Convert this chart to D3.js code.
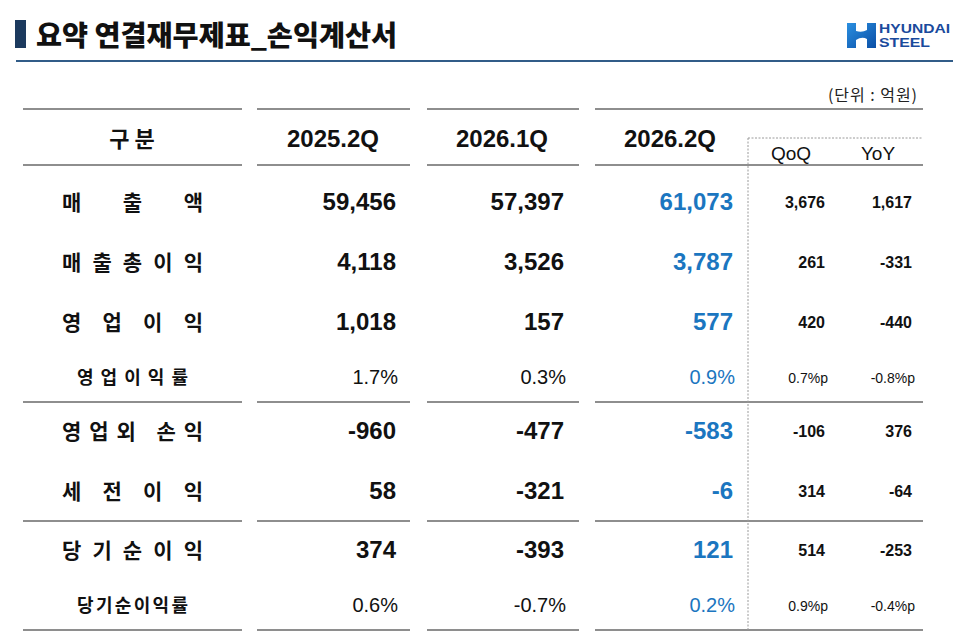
<!DOCTYPE html>
<html>
<head>
<meta charset="utf-8">
<script src="https://cdn.jsdelivr.net/npm/d3@7"></script>
<style>
  html, body { margin: 0; padding: 0; background: #fff; }
  svg { display: block; }
  .num { font-family: "Liberation Sans", Arial, sans-serif; }
  .kr { font-family: "Noto Sans CJK KR", "Noto Sans", sans-serif; }
</style>
</head>
<body>
<svg id="table" width="960" height="641"></svg>
<script>
// values (억원)
const rowLabels = ["매출액", "매출총이익", "영업이익", "영업이익률", "영업외 손익", "세전이익", "당기순이익", "당기순이익률"];
const isRatio = [false, false, false, true, false, false, false, true];
const sectionOf = [0, 0, 0, 0, 1, 1, 2, 2];
const periods = ["2025.2Q", "2026.1Q", "2026.2Q"];
const v2025q2 = [59456, 4118, 1018, 1.7, -960, 58, 374, 0.6];
const v2026q1 = [57397, 3526, 157, 0.3, -477, -321, -393, -0.7];
const v2026q2 = [61073, 3787, 577, 0.9, -583, -6, 121, 0.2];
const qoq = [3676, 261, 420, 0.7, -106, 314, 514, 0.9];
const yoy = [1617, -331, -440, -0.8, 376, -64, -253, -0.4];
const changeHeads = ["QoQ", "YoY"];

const svg = d3.select("#table");
const blue = "#1b76c0";
const lineCol = "#8e8e8e";

// title
svg.append("rect").attr("x", 15).attr("y", 20).attr("width", 11).attr("height", 28).attr("fill", "#1c3a5e");
svg.append("text").attr("class", "kr")
  .attr("x", 36).attr("y", 46)
  .attr("font-size", 28).attr("font-weight", 900).attr("fill", "#111")
  .attr("textLength", 361).attr("lengthAdjust", "spacingAndGlyphs")
  .text("요약 연결재무제표_손익계산서");
svg.append("line").attr("x1", 16).attr("x2", 953).attr("y1", 61).attr("y2", 61)
  .attr("stroke", "#315c88").attr("stroke-width", 2);

// logo
const defs = svg.append("defs");
const grad = defs.append("linearGradient").attr("id", "hg").attr("x1", 0).attr("x2", 1).attr("y1", 0).attr("y2", 1);
grad.append("stop").attr("offset", 0).attr("stop-color", "#2a8fe0");
grad.append("stop").attr("offset", 1).attr("stop-color", "#0b4fa6");
svg.append("path")
  .attr("d", "M847,23 L856,23 L856,31 Q862,33 867,30 L867,23 L876,23 L876,48 L867,48 L867,39 Q862,36 856,40 L856,48 L847,48 Z")
  .attr("fill", "url(#hg)");
svg.append("text").attr("class", "num").attr("x", 879).attr("y", 33)
  .attr("font-size", 12).attr("font-weight", 700).attr("fill", "#1a4a9c")
  .attr("textLength", 71).attr("lengthAdjust", "spacingAndGlyphs")
  .text("HYUNDAI");
svg.append("text").attr("class", "num").attr("x", 879).attr("y", 47)
  .attr("font-size", 12).attr("font-weight", 700).attr("fill", "#1a4a9c")
  .attr("textLength", 51).attr("lengthAdjust", "spacingAndGlyphs")
  .text("STEEL");

// unit
svg.append("text").attr("class", "kr").attr("x", 828).attr("y", 101)
  .attr("font-size", 16).attr("fill", "#222")
  .attr("textLength", 89).attr("lengthAdjust", "spacing")
  .text("(단위 : 억원)");

// column geometry
const colSpan = d3.scaleOrdinal()
  .domain(["label", "c0", "c1", "c2"])
  .range([[23, 242], [257, 410], [427, 579], [595, 923]]);
const valueRight = d3.scaleOrdinal()
  .domain(["c0", "c1", "c2", "qoq", "yoy"])
  .range([396, 564, 733, 825, 912]);
const headCenter = d3.scaleOrdinal()
  .domain(["label", "c0", "c1", "c2", "qoq", "yoy"])
  .range([132, 333, 502, 670, 791, 878]);

// row geometry: main rows 60px, ratio rows 50px
const tableTop = 109, headBottom = 165;
const centers = [], sectionBottoms = [];
let y = headBottom + 7;
rowLabels.forEach((d, i) => {
  if (i > 0 && sectionOf[i] !== sectionOf[i - 1]) { sectionBottoms.push(y); y -= 1; }
  const h = isRatio[i] ? 50 : 60;
  centers.push(y + h / 2);
  y += h;
});
sectionBottoms.push(y);
const rowY = d3.scaleOrdinal().domain(rowLabels).range(centers);

// horizontal rules
const hLines = [tableTop, headBottom].concat(sectionBottoms);
colSpan.domain().forEach(k => {
  const [x1, x2] = colSpan(k);
  svg.selectAll(null).data(hLines).enter().append("line")
    .attr("x1", x1).attr("x2", x2).attr("y1", d => d).attr("y2", d => d)
    .attr("stroke", lineCol).attr("stroke-width", 2);
});

// dashed change box
const dashX = 748;
svg.append("line").attr("x1", dashX).attr("x2", 923).attr("y1", 138).attr("y2", 138)
  .attr("stroke", "#9a9a9a").attr("stroke-width", 1).attr("stroke-dasharray", "2,1.5");
svg.append("line").attr("x1", dashX).attr("x2", dashX).attr("y1", 138).attr("y2", sectionBottoms[sectionBottoms.length - 1])
  .attr("stroke", "#9a9a9a").attr("stroke-width", 1).attr("stroke-dasharray", "2,1.5");

// headers
svg.append("text").attr("class", "kr")
  .attr("x", headCenter("label")).attr("y", 147).attr("text-anchor", "middle")
  .attr("font-size", 22).attr("font-weight", 700).attr("fill", "#111")
  .text("구 분");
svg.selectAll(".head").data(periods).enter().append("text")
  .attr("class", "num head")
  .attr("x", (d, i) => headCenter("c" + i)).attr("y", 147).attr("text-anchor", "middle")
  .attr("font-size", 24).attr("font-weight", 700).attr("fill", "#111")
  .text(d => d);
svg.selectAll(".chead").data(changeHeads).enter().append("text")
  .attr("class", "num chead")
  .attr("x", d => headCenter(d.toLowerCase())).attr("y", 160).attr("text-anchor", "middle")
  .attr("font-size", 19).attr("fill", "#111")
  .text(d => d);

// row labels, spread like the slide
svg.selectAll(".rlabel").data(rowLabels).enter().append("text")
  .attr("class", "kr rlabel")
  .attr("x", (d, i) => isRatio[i] ? 77 : 62)
  .attr("y", (d, i) => rowY(d) + (isRatio[i] ? 7 : 8))
  .attr("font-size", (d, i) => isRatio[i] ? 18 : 21)
  .attr("font-weight", 700).attr("fill", "#111")
  .attr("textLength", (d, i) => isRatio[i] ? 111 : 141)
  .attr("lengthAdjust", "spacing")
  .text(d => d);

const loc = d3.formatLocale({ decimal: ".", thousands: ",", grouping: [3], currency: ["", ""], minus: "-" });
const fmtNum = loc.format(",");
const fmtPct = v => loc.format(".1f")(v) + "%";
const fmtPctP = v => loc.format(".1f")(v) + "%p";

// period values
[v2025q2, v2026q1, v2026q2].forEach((vals, c) => {
  svg.selectAll(".v" + c).data(vals).enter().append("text")
    .attr("class", "num v" + c)
    .attr("x", (d, i) => valueRight("c" + c) + (isRatio[i] ? 2 : 0))
    .attr("y", (d, i) => rowY(rowLabels[i]) + (isRatio[i] ? 7 : 8))
    .attr("text-anchor", "end")
    .attr("font-size", (d, i) => isRatio[i] ? 20 : 24)
    .attr("font-weight", (d, i) => isRatio[i] ? 400 : 700)
    .attr("fill", c === 2 ? blue : "#111")
    .text((d, i) => isRatio[i] ? fmtPct(d) : fmtNum(d));
});

// changes
[["qoq", qoq], ["yoy", yoy]].forEach(([k, vals]) => {
  svg.selectAll("." + k).data(vals).enter().append("text")
    .attr("class", "num " + k)
    .attr("x", (d, i) => valueRight(k) + (isRatio[i] ? 3 : 0))
    .attr("y", (d, i) => rowY(rowLabels[i]) + 6)
    .attr("text-anchor", "end")
    .attr("font-size", (d, i) => isRatio[i] ? 14 : 16)
    .attr("font-weight", (d, i) => isRatio[i] ? 400 : 700)
    .attr("fill", "#111")
    .text((d, i) => isRatio[i] ? fmtPctP(d) : fmtNum(d));
});
</script>
</body>
</html>
